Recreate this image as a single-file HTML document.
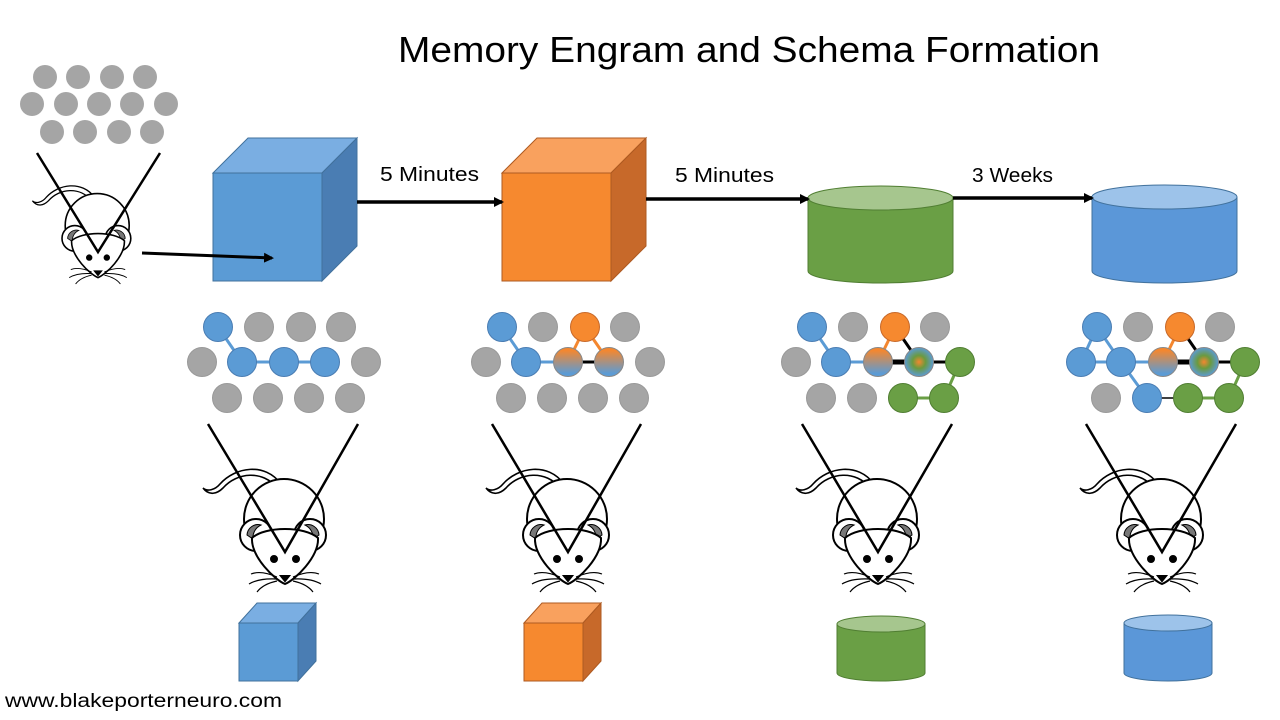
<!DOCTYPE html>
<html><head><meta charset="utf-8"><style>
html,body{margin:0;padding:0;background:#fff;}
svg{display:block;}
text{font-family:"Liberation Sans",sans-serif;fill:#000;}
</style></head><body>
<svg width="1280" height="720" viewBox="0 0 1280 720" xmlns="http://www.w3.org/2000/svg">
<defs>
<marker id="ah" markerWidth="10" markerHeight="10" refX="8" refY="5" orient="auto" markerUnits="userSpaceOnUse">
<path d="M0,0 L10,5 L0,10 z" fill="#000"/></marker>
<linearGradient id="ob" x1="0" y1="0" x2="0" y2="1">
<stop offset="0.1" stop-color="#F4872F"/><stop offset="0.9" stop-color="#5B9BD5"/></linearGradient>
<radialGradient id="mix"><stop offset="0" stop-color="#F4872F"/><stop offset="0.45" stop-color="#6A9A3F"/><stop offset="1" stop-color="#5B9BD5"/></radialGradient>
<g id="mouse" fill="#fff" stroke="#000" stroke-width="2">
<path d="M-4,-68 C-20,-90 -50,-85 -65,-68 C-70,-62 -78,-60 -82,-64 C-76,-56 -68,-58 -62,-64 C-48,-80 -22,-82 -8,-64" stroke-width="1.6"/>
<circle cx="-1" cy="-33" r="40"/>
<circle cx="-29" cy="-17" r="16"/>
<circle cx="25" cy="-17" r="16"/>
<path d="M-38,-17 a11,11 0 0 1 14,-10 a14,14 0 0 0 -8,14 z" fill="#777" stroke-width="1"/>
<path d="M34,-17 a11,11 0 0 0 -14,-10 a14,14 0 0 1 8,14 z" fill="#777" stroke-width="1"/>
<path d="M-33,-14 C-34,5 -10,28 0,32 C10,28 34,5 33,-14 C20,-26 -20,-26 -33,-14 z"/>
<circle cx="-11" cy="7" r="3" fill="#000"/><circle cx="11" cy="7" r="3" fill="#000"/>
<path d="M-4,24 L4,24 L0,29 z" fill="#000"/>
<path d="M-8,25 Q-24,18 -34,22 M-8,27 Q-26,26 -36,32 M-8,29 Q-22,32 -28,40 M8,25 Q24,18 34,22 M8,27 Q26,26 36,32 M8,29 Q22,32 28,40" fill="none" stroke-width="1.2"/>
</g>
</defs>

<text x="749" y="62" font-size="36" text-anchor="middle" textLength="702" lengthAdjust="spacingAndGlyphs">Memory Engram and Schema Formation</text>
<text x="5" y="707" font-size="19" textLength="277" lengthAdjust="spacingAndGlyphs">www.blakeporterneuro.com</text>

<!-- top-left neurons -->
<g fill="#A5A5A5">
<circle cx="45" cy="77" r="12"/><circle cx="78" cy="77" r="12"/><circle cx="112" cy="77" r="12"/><circle cx="145" cy="77" r="12"/>
<circle cx="32" cy="104" r="12"/><circle cx="66" cy="104" r="12"/><circle cx="99" cy="104" r="12"/><circle cx="132" cy="104" r="12"/><circle cx="166" cy="104" r="12"/>
<circle cx="52" cy="132" r="12"/><circle cx="85" cy="132" r="12"/><circle cx="119" cy="132" r="12"/><circle cx="152" cy="132" r="12"/>
</g>
<use href="#mouse" transform="translate(98,252) scale(0.8)"/>
<polyline points="37,153 98,252 160,153" fill="none" stroke="#000" stroke-width="2.5"/>

<!-- big blue cube -->
<g stroke="#41719C" stroke-width="1">
<polygon points="213,173 248,138 357,138 322,173" fill="#7AAEE2"/>
<polygon points="322,173 357,138 357,246 322,281" fill="#4A7DB3"/>
<rect x="213" y="173" width="109" height="108" fill="#5B9BD5"/>
</g>
<line x1="142" y1="253" x2="272" y2="258" stroke="#000" stroke-width="3" marker-end="url(#ah)"/>
<!-- orange cube -->
<g stroke="#AE5A21" stroke-width="1">
<polygon points="502,173 537,138 646,138 611,173" fill="#F9A15E"/>
<polygon points="611,173 646,138 646,246 611,281" fill="#C7692A"/>
<rect x="502" y="173" width="109" height="108" fill="#F6892F"/>
</g>
<!-- green cylinder -->
<g stroke="#507E32" stroke-width="1">
<path d="M808,198 L808,271 A72.5,12 0 0 0 953,271 L953,198 z" fill="#6A9F45"/>
<ellipse cx="880.5" cy="198" rx="72.5" ry="12" fill="#A6C68E"/>
</g>
<!-- blue cylinder -->
<g stroke="#41719C" stroke-width="1">
<path d="M1092,197 L1092,271 A72.5,12 0 0 0 1237,271 L1237,197 z" fill="#5B97D8"/>
<ellipse cx="1164.5" cy="197" rx="72.5" ry="12" fill="#9DC3EA"/>
</g>

<!-- arrows -->
<g stroke="#000" stroke-width="3.5">
<line x1="357" y1="202" x2="502" y2="202" marker-end="url(#ah)"/>
<line x1="646" y1="199" x2="808" y2="199" marker-end="url(#ah)"/>
<line x1="953" y1="198" x2="1092" y2="198" marker-end="url(#ah)"/>
</g>
<text x="380" y="181" font-size="20" textLength="99" lengthAdjust="spacingAndGlyphs">5 Minutes</text>
<text x="675" y="182" font-size="20" textLength="99" lengthAdjust="spacingAndGlyphs">5 Minutes</text>
<text x="972" y="182" font-size="20" textLength="81" lengthAdjust="spacingAndGlyphs">3 Weeks</text>

<!-- Panel 1 -->
<g>
<g stroke="#5B9BD5" stroke-width="3"><line x1="218" y1="327" x2="242" y2="362"/><line x1="242" y1="362" x2="325" y2="362"/></g>
<g fill="#A5A5A5" stroke="#999">
<circle cx="259" cy="327" r="14.5"/><circle cx="301" cy="327" r="14.5"/><circle cx="341" cy="327" r="14.5"/>
<circle cx="202" cy="362" r="14.5"/><circle cx="366" cy="362" r="14.5"/>
<circle cx="227" cy="398" r="14.5"/><circle cx="268" cy="398" r="14.5"/><circle cx="309" cy="398" r="14.5"/><circle cx="350" cy="398" r="14.5"/>
</g>
<g fill="#5B9BD5" stroke="#4A7DB3"><circle cx="218" cy="327" r="14.5"/><circle cx="242" cy="362" r="14.5"/><circle cx="284" cy="362" r="14.5"/><circle cx="325" cy="362" r="14.5"/></g>
</g>

<!-- Panel 2 -->
<g transform="translate(284,0)">
<g stroke-width="3"><line x1="218" y1="327" x2="242" y2="362" stroke="#5B9BD5"/><line x1="242" y1="362" x2="284" y2="362" stroke="#5B9BD5"/><line x1="284" y1="362" x2="325" y2="362" stroke="#000"/>
<line x1="301" y1="327" x2="284" y2="362" stroke="#F4872F"/><line x1="301" y1="327" x2="325" y2="362" stroke="#F4872F"/></g>
<g fill="#A5A5A5" stroke="#999">
<circle cx="259" cy="327" r="14.5"/><circle cx="341" cy="327" r="14.5"/>
<circle cx="202" cy="362" r="14.5"/><circle cx="366" cy="362" r="14.5"/>
<circle cx="227" cy="398" r="14.5"/><circle cx="268" cy="398" r="14.5"/><circle cx="309" cy="398" r="14.5"/><circle cx="350" cy="398" r="14.5"/>
</g>
<g fill="#5B9BD5" stroke="#4A7DB3"><circle cx="218" cy="327" r="14.5"/><circle cx="242" cy="362" r="14.5"/></g>
<circle cx="301" cy="327" r="14.5" fill="#F6892F" stroke="#C7692A"/>
<circle cx="284" cy="362" r="14.5" fill="url(#ob)" stroke="#888"/><circle cx="325" cy="362" r="14.5" fill="url(#ob)" stroke="#888"/>
</g>

<!-- Panel 3 -->
<g transform="translate(594,0)">
<g stroke-width="3"><line x1="218" y1="327" x2="242" y2="362" stroke="#5B9BD5"/><line x1="242" y1="362" x2="284" y2="362" stroke="#5B9BD5"/>
<line x1="284" y1="362" x2="325" y2="362" stroke="#000" stroke-width="5"/><line x1="325" y1="362" x2="366" y2="362" stroke="#000"/>
<line x1="301" y1="327" x2="284" y2="362" stroke="#F4872F"/><line x1="301" y1="327" x2="325" y2="362" stroke="#000"/>
<line x1="366" y1="362" x2="350" y2="398" stroke="#6A9F45"/><line x1="309" y1="398" x2="350" y2="398" stroke="#6A9F45"/></g>
<g fill="#A5A5A5" stroke="#999">
<circle cx="259" cy="327" r="14.5"/><circle cx="341" cy="327" r="14.5"/>
<circle cx="202" cy="362" r="14.5"/>
<circle cx="227" cy="398" r="14.5"/><circle cx="268" cy="398" r="14.5"/>
</g>
<g fill="#5B9BD5" stroke="#4A7DB3"><circle cx="218" cy="327" r="14.5"/><circle cx="242" cy="362" r="14.5"/></g>
<circle cx="301" cy="327" r="14.5" fill="#F6892F" stroke="#C7692A"/>
<circle cx="284" cy="362" r="14.5" fill="url(#ob)" stroke="#888"/><circle cx="325" cy="362" r="14.5" fill="url(#mix)" stroke="#888"/>
<g fill="#6A9F45" stroke="#507E32"><circle cx="366" cy="362" r="14.5"/><circle cx="309" cy="398" r="14.5"/><circle cx="350" cy="398" r="14.5"/></g>
</g>

<!-- Panel 4 -->
<g transform="translate(879,0)">
<g stroke-width="3"><line x1="218" y1="327" x2="242" y2="362" stroke="#5B9BD5"/><line x1="218" y1="327" x2="202" y2="362" stroke="#5B9BD5"/><line x1="202" y1="362" x2="284" y2="362" stroke="#5B9BD5"/>
<line x1="242" y1="362" x2="268" y2="398" stroke="#5B9BD5"/><line x1="268" y1="398" x2="309" y2="398" stroke="#000" stroke-width="1.5"/>
<line x1="284" y1="362" x2="325" y2="362" stroke="#000" stroke-width="5"/><line x1="325" y1="362" x2="366" y2="362" stroke="#000"/>
<line x1="301" y1="327" x2="284" y2="362" stroke="#F4872F"/><line x1="301" y1="327" x2="325" y2="362" stroke="#000"/>
<line x1="366" y1="362" x2="350" y2="398" stroke="#6A9F45"/><line x1="309" y1="398" x2="350" y2="398" stroke="#6A9F45"/></g>
<g fill="#A5A5A5" stroke="#999">
<circle cx="259" cy="327" r="14.5"/><circle cx="341" cy="327" r="14.5"/>
<circle cx="227" cy="398" r="14.5"/>
</g>
<g fill="#5B9BD5" stroke="#4A7DB3"><circle cx="218" cy="327" r="14.5"/><circle cx="202" cy="362" r="14.5"/><circle cx="242" cy="362" r="14.5"/><circle cx="268" cy="398" r="14.5"/></g>
<circle cx="301" cy="327" r="14.5" fill="#F6892F" stroke="#C7692A"/>
<circle cx="284" cy="362" r="14.5" fill="url(#ob)" stroke="#888"/><circle cx="325" cy="362" r="14.5" fill="url(#mix)" stroke="#888"/>
<g fill="#6A9F45" stroke="#507E32"><circle cx="366" cy="362" r="14.5"/><circle cx="309" cy="398" r="14.5"/><circle cx="350" cy="398" r="14.5"/></g>
</g>

<!-- mice with V lines -->
<use href="#mouse" transform="translate(285,552)"/>
<polyline points="208,424 285,552 358,424" fill="none" stroke="#000" stroke-width="2.5"/>
<use href="#mouse" transform="translate(568,552)"/>
<polyline points="492,424 568,552 641,424" fill="none" stroke="#000" stroke-width="2.5"/>
<use href="#mouse" transform="translate(878,552)"/>
<polyline points="802,424 878,552 952,424" fill="none" stroke="#000" stroke-width="2.5"/>
<use href="#mouse" transform="translate(1162,552)"/>
<polyline points="1086,424 1162,552 1236,424" fill="none" stroke="#000" stroke-width="2.5"/>

<!-- small bottom shapes -->
<g stroke="#41719C" stroke-width="1">
<polygon points="239,623 257,603 316,603 298,623" fill="#7AAEE2"/>
<polygon points="298,623 316,603 316,661 298,681" fill="#4A7DB3"/>
<rect x="239" y="623" width="59" height="58" fill="#5B9BD5"/>
</g>
<g stroke="#AE5A21" stroke-width="1">
<polygon points="524,623 542,603 601,603 583,623" fill="#F9A15E"/>
<polygon points="583,623 601,603 601,661 583,681" fill="#C7692A"/>
<rect x="524" y="623" width="59" height="58" fill="#F6892F"/>
</g>
<g stroke="#507E32" stroke-width="1">
<path d="M837,624 L837,673 A44,8 0 0 0 925,673 L925,624 z" fill="#6A9F45"/>
<ellipse cx="881" cy="624" rx="44" ry="8" fill="#A6C68E"/>
</g>
<g stroke="#41719C" stroke-width="1">
<path d="M1124,623 L1124,673 A44,8 0 0 0 1212,673 L1212,623 z" fill="#5B97D8"/>
<ellipse cx="1168" cy="623" rx="44" ry="8" fill="#9DC3EA"/>
</g>
</svg>
</body></html>
